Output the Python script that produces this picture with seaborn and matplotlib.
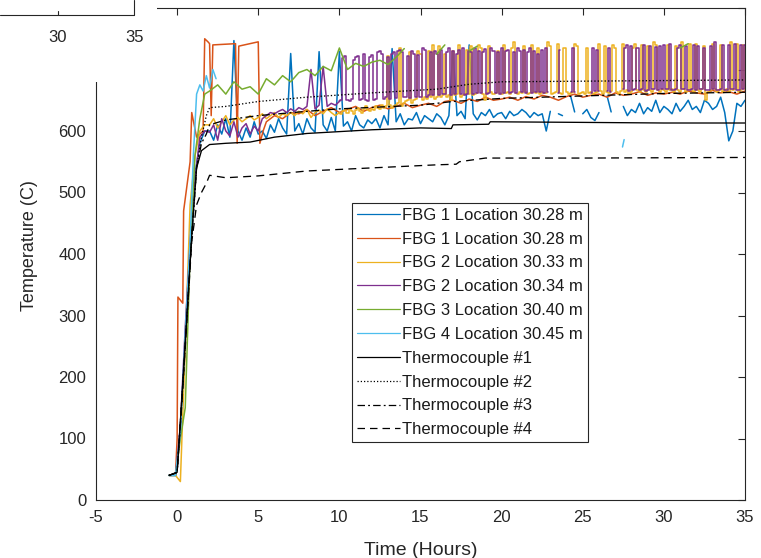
import numpy as np
import pandas as pd
import matplotlib
matplotlib.use("Agg")
import matplotlib.pyplot as plt
from matplotlib.lines import Line2D
from matplotlib.patches import Rectangle
import seaborn as sns

nan = np.nan

# ---------------- data ----------------
ramp_t = [-0.5, -0.1, 0.2, 0.5, 0.8, 1.1, 1.4, 1.7]
fine_t = np.arange(2.0, 35.001, 0.25)      # 133 samples
coarse_t = np.arange(2.0, 35.001, 0.5)     # 67 samples
early_t = np.arange(2.0, 9.76, 0.25)       # 32 samples (2.0 .. 9.75)
switch_t = np.arange(10.0, 35.001, 0.125)  # 201 samples

fbg1a_ramp = [40, 40, 110, 260, 400, 530, 580, 600]
fbg1a_vals = [
    600, 585, 610, 595, 620, 590, 747, 600, 585, 605, 590, 615, 595, 600, 588, 610, 598, 620, 605, 595,
    726, 600, 612, 595, 620, 605, 598, 729, 610, 600, 622, 600, 729, 608, 615, 600, 625, 610, 605, 618,
    612, 620, 605, 625, 610, 734, 615, 628, 610, 620, 618, 630, 612, 625, 620, 615, 628, 622, 610, 625,
    730, 625, 632, 620, 740, 628, 618, 630, 625, 635, 622, 628, 630, 620, 632, 625, 628, 635, 630, 622,
    630, 625, 628, 600, 632, nan, 628, 625, nan, 657, 631, nan, 628, 635, 622, 617, 630, nan, 657, 631,
    nan, nan, 640, 625, 635, 630, 645, 628, 638, 632, 650, 630, 640, 635, 628, 645, 632, 640, 650, 635,
    640, 630, 650, 645, 635, 640, 655, 630, 584, 600, 645, 640, 650,
]

fbg1b_t_early = [-0.1, 0.0, 0.05, 0.35, 0.4, 0.8, 0.9, 1.2, 1.6, 1.7,
                 1.9, 2.0, 2.1, 2.2, 3.6, 3.7, 3.8, 5.0, 5.1, 5.3]
fbg1b_early = [40, 100, 330, 320, 470, 550, 630, 590, 600, 750,
               745, 742, 625, 740, 742, 580, 738, 745, 580, 600]
fbg1b_t_late = np.arange(5.5, 35.001, 0.5)
fbg1b_late = [
    615, 625, 620, 630, 628, 635, 625, 632, 638, 630,
    635, 640, 632, 638, 642, 636, 640, 645, 638, 642,
    645, 640, 648, 650, 645, 652, 648, 655, 650, 652,
    655, 650, 656, 652, 658, 655, 650, 656, 660, 655,
    658, 660, 655, 662, 658, 660, 664, 658, 662, 660,
    663, 660, 665, 662, 660, 666, 662, 664, 660, 665,
]

fbg2a_ramp = [40, 40, 30, 250, 480, 560, 600, 610]
fbg2a_early = [
    610, 620, 605, 615, 625, 610, 618, 622, 615, 620, 625, 618, 622, 628, 620, 625,
    630, 622, 628, 625, 630, 625, 632, 628, 635, 622, 630, 634, 628, 636, 630, 625,
]
fbg2a_switch = [
    630, 628, 632, 634, 630, 636, 632, 628, 634, 638, 632, 630, 636, 640, 634, 632,
    636, 634, 640, 638, 636, 642, 638, 640, 722, 642, 638, 640, 642, 645, 735, 640,
    645, 648, 650, 728, 645, 650, 652, 730, 725, 650, 655, 652, 730, 655, 740, 652,
    655, 738, 655, 658, 725, 656, 658, 650, 730, 658, 660, 740, 655, 658, 660, 732,
    660, 738, 658, 660, 662, 740, 735, 660, 650, 662, 738, 664, 660, 662, 730, 662,
    660, 740, 662, 664, 660, 735, 745, 662, 660, 664, 662, 738, 664, 660, 662, 740,
    664, 662, 735, 660, 664, 662, 662, 745, 738, 660, 662, 664, 742, 662, 660, 735,
    664, 660, 662, 664, 742, 738, 660, 662, 664, 660, 735, 662, 664, 660, 662, 664,
    742, 665, 660, 738, 664, 662, 665, 740, 735, 664, 660, 665, 742, 664, 666, 660,
    664, 735, 742, 666, 664, 740, 666, 664, 738, 666, 664, 745, 740, 666, 664, 668,
    666, 664, 740, 666, 668, 664, 738, 666, 664, 745, 668, 664, 666, 742, 666, 664,
    742, 666, 664, 668, 738, 650, 664, 666, 742, 668, 664, 666, 740, 664, 666, 668,
    664, 745, 666, 668, 742, 664, 666, 740, 668,
]

fbg2b_ramp = [40, 40, 120, 280, 420, 520, 590, 600]
fbg2b_early = [
    598, 610, 585, 620, 600, 592, 615, 590, 605, 612, 595, 608, 600, 620, 625, 630,
    628, 632, 635, 630, 636, 632, 638, 635, 640, 700, 636, 642, 705, 640, 645, 642,
]
fbg2b_switch = [
    648, 650, 718, 722, 650, 648, 652, 715, 720, 722, 650, 652, 725, 650, 648, 720,
    724, 650, 652, 728, 730, 726, 652, 655, 720, 652, 725, 728, 654, 730, 732, 728,
    655, 656, 722, 654, 730, 726, 656, 724, 656, 735, 732, 656, 658, 728, 658, 730,
    725, 658, 732, 660, 660, 728, 735, 658, 730, 660, 726, 732, 660, 735, 658, 660,
    730, 728, 660, 735, 662, 730, 662, 728, 734, 660, 662, 735, 730, 662, 728, 660,
    735, 662, 730, 732, 662, 664, 728, 662, 735, 730, 664, 732, 662, 728, 735, 662,
    730, 664, 726, 664, 732, 662, 735, 664, nan, nan, nan, nan, 662, 732, nan, nan,
    nan, nan, 664, 735, 664, nan, nan, nan, nan, nan, nan, nan, 662, 735, 665, 732,
    665, nan, nan, nan, 665, 735, 664, nan, nan, nan, nan, nan, 668, 735, 740, 665,
    738, 666, 668, 735, 666, 668, 740, 665, 666, 738, 668, 668, 736, 666, 738, 668,
    740, 668, 668, 742, 666, 666, 668, 735, 740, 668, 668, 738, 666, 666, 668, 740,
    666, 738, 668, 668, 735, 666, 666, 738, 668, 745, 666, 666, 668, 740, 666, 666,
    740, 668, 668, 742, 666, 666, 740, 668, 740,
]

fbg3_ramp = [40, 40, 100, 150, 400, 560, 620, 660]
fbg3_vals = [
    665, 675, 660, 680, 668, 672, 660, 685, 675, 690, 680, 695, 700, 690, 705, 698, 735, 700, 710, 705, 712,
    715, 708, 720, 734, nan, nan, nan, 725, 740, nan, nan, 730, 738,
    nan, nan, nan, nan, nan, nan, nan, nan, nan, nan, nan, nan,
    nan, nan, nan, nan, nan, nan, nan, nan, nan, nan, nan, nan,
    735, 742, nan, nan, nan, nan, nan, nan, nan,
]

fbg4_t = [-0.5, -0.1, 0.2, 0.5, 0.8, 1.0, 1.2, 1.4, 1.6, 1.8, 2.0, 2.2, 2.4, 2.6, 27.45, 27.55]
fbg4_vals = [40, 40, 110, 270, 420, 560, 660, 675, 665, 690, 670, 700, 685, nan, 574, 586]

tc1_t = [-0.5, 0.0, 0.3, 0.6, 0.9, 1.2, 1.5, 2.0, 3.0, 4.5, 6, 8, 10, 12, 15, 16.9, 17.0, 19.2, 19.3, 25, 30, 35]
tc1_vals = [40, 45, 170, 300, 430, 540, 568, 578, 580, 582, 590, 596, 599, 602, 605, 604, 610, 611, 615, 614, 613, 613]

tc2_t = [-0.5, 0.0, 0.3, 0.6, 0.9, 1.2, 1.5, 1.8, 2.0, 3, 5, 8, 12, 16, 18, 20, 25, 35]
tc2_vals = [40, 45, 165, 295, 425, 540, 590, 625, 638, 640, 648, 655, 662, 668, 676, 680, 681, 683]

tc3_t = [-0.5, 0.0, 0.3, 0.6, 0.9, 1.2, 1.5, 1.8, 2.0, 3, 5, 8, 10, 15, 17, 20, 25, 30, 35]
tc3_vals = [40, 45, 168, 298, 428, 540, 580, 595, 610, 618, 625, 632, 636, 642, 648, 653, 657, 661, 663]

tc4_t = [-0.5, 0.0, 0.3, 0.6, 0.9, 1.2, 1.5, 1.8, 2.0, 3.0, 5, 8, 12, 16, 17.2, 17.4, 19.0, 25, 35]
tc4_vals = [40, 45, 160, 290, 420, 480, 500, 515, 528, 524, 527, 535, 540, 545, 546, 550, 556, 556, 557]

labels = ["FBG 1 Location 30.28 m", "FBG 1 Location 30.28 m", "FBG 2 Location 30.33 m",
          "FBG 2 Location 30.34 m", "FBG 3 Location 30.40 m", "FBG 4 Location 30.45 m",
          "Thermocouple #1", "Thermocouple #2", "Thermocouple #3", "Thermocouple #4"]

# ---------------- style ----------------
sns.set_style("white")
plt.rcParams['font.family'] = ['Liberation Sans', 'DejaVu Sans']
plt.rcParams['axes.unicode_minus'] = False

colors = ["#0072BD", "#D95319", "#EDB120", "#7E2F8E", "#77AC30", "#4DBEEE",
          "black", "black", "black", "black"]
styles = ["-", "-", "-", "-", "-", "-", "-", (0, (1, 1.6)), (0, (6, 2.5, 1.5, 2.5)), (0, (6, 4))]

series = [
    [(list(ramp_t) + list(fine_t), fbg1a_ramp + fbg1a_vals, "default")],
    [(fbg1b_t_early + list(fbg1b_t_late), fbg1b_early + fbg1b_late, "default")],
    [(list(ramp_t) + list(early_t) + [switch_t[0]], fbg2a_ramp + fbg2a_early + [fbg2a_switch[0]], "default"),
     (list(switch_t), fbg2a_switch, "steps-mid")],
    [(list(ramp_t) + list(early_t) + [switch_t[0]], fbg2b_ramp + fbg2b_early + [fbg2b_switch[0]], "default"),
     (list(switch_t), fbg2b_switch, "steps-mid")],
    [(list(ramp_t) + list(coarse_t), fbg3_ramp + fbg3_vals, "default")],
    [(fbg4_t, fbg4_vals, "default")],
    [(tc1_t, tc1_vals, "default")],
    [(tc2_t, tc2_vals, "default")],
    [(tc3_t, tc3_vals, "default")],
    [(tc4_t, tc4_vals, "default")],
]

fig = plt.figure(figsize=(7.61, 5.58), dpi=100)
ax = fig.add_axes([96 / 761, 1 - 500 / 558, 649 / 761, 492 / 558])

for i, parts in enumerate(series):
    for (t, v, ds) in parts:
        df = pd.DataFrame({"t": np.asarray(t, float), "v": np.asarray(v, float)})
        df["seg"] = df["v"].isna().cumsum()
        df = df.dropna()
        sns.lineplot(data=df, x="t", y="v", units="seg", estimator=None, sort=False,
                     color=colors[i], linestyle=styles[i], linewidth=1.1 if i < 6 else 0.95,
                     drawstyle=ds, ax=ax, zorder=2 + i, legend=False)

ax.set_xlim(-5, 35)
ax.set_ylim(0, 800)
ax.set_xticks(range(-5, 36, 5))
ax.set_yticks(range(0, 801, 100))
ax.tick_params(direction="in", length=5, width=0.8, top=True, right=True,
               labelsize=12, colors="#262626", pad=7)
for s in ax.spines.values():
    s.set_color("#262626")
    s.set_linewidth(0.8)
ax.set_xlabel("Time (Hours)", fontsize=14, color="#262626")
ax.set_ylabel("Temperature (C)", fontsize=13, color="#262626")
ax.xaxis.set_label_coords(0.5, -0.085)
ax.yaxis.set_label_coords(-0.089, 0.518)

handles = [Line2D([0], [0], color=colors[i], linestyle=styles[i], linewidth=0.9)
           for i in range(len(labels))]
leg = ax.legend(handles, labels, loc="upper left", bbox_to_anchor=(0.394, 0.604),
                borderaxespad=0, fontsize=12, handlelength=2.6, handletextpad=0.1,
                labelspacing=0.53, borderpad=0.3, fancybox=False, framealpha=1,
                edgecolor="#262626")
leg.get_frame().set_linewidth(0.8)
leg.set_zorder(20)
for txt in leg.get_texts():
    txt.set_color("#1a1a1a")

# overlay from the neighbouring (cropped) figure panel
fig.add_artist(Rectangle((0, 1 - 82 / 558), 157 / 761, 82 / 558, transform=fig.transFigure,
                         facecolor="white", edgecolor="none", zorder=10))
fig.add_artist(Line2D([0, 134 / 761], [1 - 15 / 558, 1 - 15 / 558], transform=fig.transFigure,
                      color="#262626", lw=0.8, zorder=11))
fig.add_artist(Line2D([134 / 761, 134 / 761], [1, 1 - 15 / 558], transform=fig.transFigure,
                      color="#262626", lw=0.8, zorder=11))
fig.add_artist(Line2D([58 / 761, 58 / 761], [1 - 15 / 558, 1 - 11 / 558], transform=fig.transFigure,
                      color="#262626", lw=0.8, zorder=11))
fig.text(58 / 761, 1 - 38 / 558, "30", ha="center", va="center", fontsize=12, color="#262626", zorder=11)
fig.text(135 / 761, 1 - 38 / 558, "35", ha="center", va="center", fontsize=12, color="#262626", zorder=11)

fig.savefig("out.png", dpi=100, facecolor="white")
